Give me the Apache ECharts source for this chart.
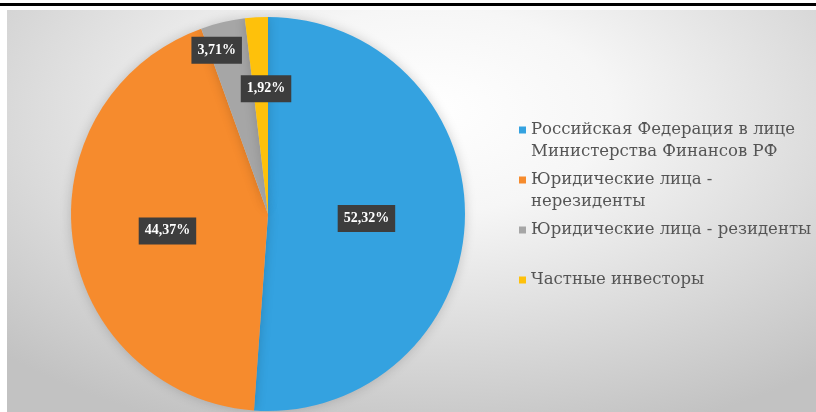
<!DOCTYPE html>
<html>
<head>
<meta charset="utf-8">
<script src="https://cdn.jsdelivr.net/npm/echarts@6/dist/echarts.min.js"></script>
<style>
html,body{margin:0;padding:0;background:#fff;width:816px;height:412px;overflow:hidden;}
#topline{position:absolute;left:0;top:3px;width:816px;height:3px;background:#000;}
#bg{position:absolute;left:7px;top:10px;width:809px;height:402px;
 background:radial-gradient(ellipse 75% 85% at 52% 25%, #ffffff 0%, #f6f6f6 30%, #dcdcdc 65%, #c2c2c2 100%);}
#chart{position:absolute;left:0;top:0;width:816px;height:412px;}
</style>
</head>
<body>
<div id="topline"></div>
<div id="bg"></div>
<div id="chart"></div>
<script>
const categories = [
  'Российская Федерация в лице Министерства Финансов РФ',
  'Юридические лица - нерезиденты',
  'Юридические лица - резиденты',
  'Частные инвесторы'
];
const values = [52.32, 44.37, 3.71, 1.92];
const valueLabels = ['52,32%', '44,37%', '3,71%', '1,92%'];
const legendLines = [
  ['Российская Федерация в лице', 'Министерства Финансов РФ'],
  ['Юридические лица -', 'нерезиденты'],
  ['Юридические лица - резиденты', ' '],
  ['Частные инвесторы', ' ']
];
const colors = ['#34a2e0', '#f68b2d', '#a6a6a6', '#fec10b'];
const labelShift = [[-3, 1], [0, 3], [-28, -65], [4, -24]];

const chart = echarts.init(document.getElementById('chart'), null, {renderer: 'canvas'});
chart.setOption({
  backgroundColor: 'transparent',
  animation: false,
  color: colors,
  legend: {
    orient: 'vertical',
    left: 514,
    top: 92,
    icon: 'rect',
    itemWidth: 7,
    itemHeight: 7,
    itemGap: -16,
    formatter: function (name) {
      const i = categories.indexOf(name);
      return ' \n' + legendLines[i].join('\n');
    },
    textStyle: {
      fontFamily: '"DejaVu Serif", serif',
      fontSize: 16.5,
      lineHeight: 22,
      color: '#555555'
    },
    data: categories
  },
  series: [{
    type: 'pie',
    center: [268, 214],
    radius: [0, 197],
    startAngle: 90,
    clockwise: true,
    itemStyle: {
      shadowBlur: 12,
      shadowColor: 'rgba(0,0,0,0.18)'
    },
    label: {
      show: true,
      position: 'inside',
      formatter: function (p) { return valueLabels[p.dataIndex]; },
      backgroundColor: '#3d3d3d',
      color: '#ffffff',
      fontFamily: '"Liberation Serif", "Times New Roman", serif',
      fontWeight: 'bold',
      fontSize: 14,
      padding: [7, 6, 6, 6]
    },
    labelLine: {show: false},
    labelLayout: function (p) {
      const s = labelShift[p.dataIndex];
      return {dx: s[0], dy: s[1]};
    },
    emphasis: {disabled: true},
    data: categories.map((c, i) => ({name: c, value: values[i]}))
  }]
});
</script>
</body>
</html>
